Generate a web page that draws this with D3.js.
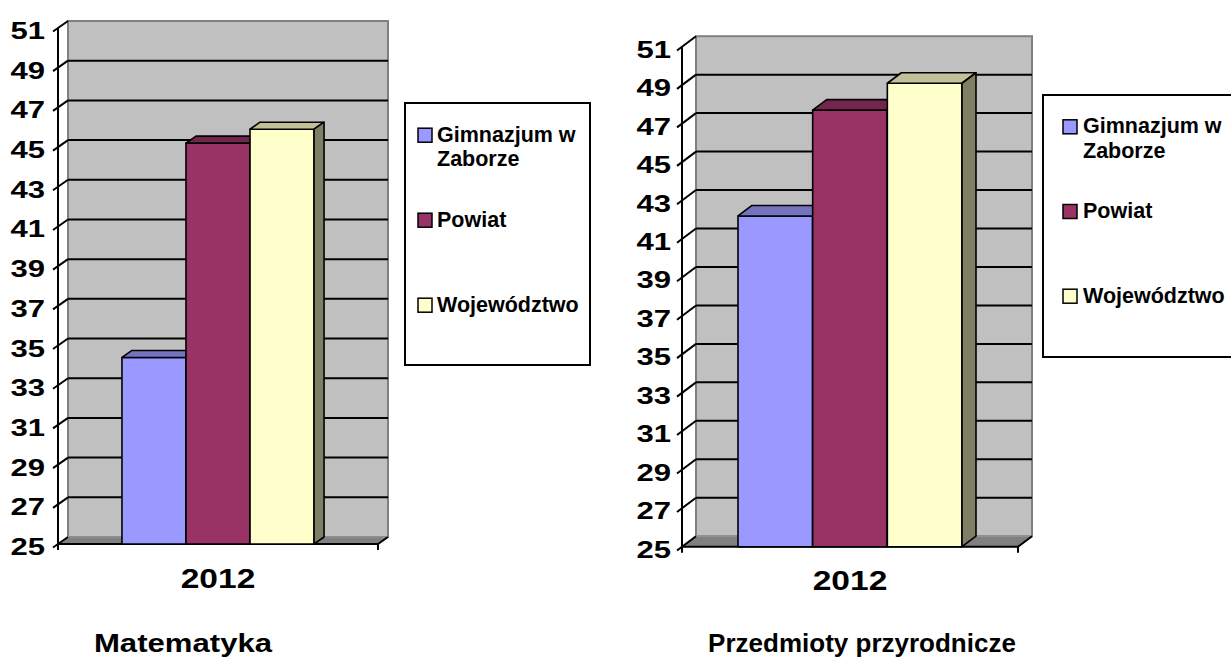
<!DOCTYPE html>
<html>
<head>
<meta charset="utf-8">
<script src="https://cdn.jsdelivr.net/npm/d3@7"></script>
<style>
    body { margin: 0; background: #fff; }
    svg { display: block; }
    text { font-family: "Liberation Sans", Arial, sans-serif; font-weight: bold; fill: #000; }
</style>
</head>
<body>
<svg id="chart" width="1231" height="657"></svg>
<script>
// data
const seriesNames = ["Gimnazjum w Zaborze", "Powiat", "Województwo"];
const legendLabels = [["Gimnazjum w", "Zaborze"], ["Powiat"], ["Województwo"]];
const years = ["2012"];
const mathScores = [34.4, 45.2, 45.9];
const scienceScores = [42.2, 47.7, 49.1];
const yTicks = [25, 27, 29, 31, 33, 35, 37, 39, 41, 43, 45, 47, 49, 51];
const titles = ["Matematyka", "Przedmioty przyrodnicze"];

const palette = ["#9999ff", "#993366", "#ffffcc"];

const charts = [
    {
        values: mathScores, title: titles[0],
        x0: 58, x1: 378, yTop: 28, yBottom: 544, dx: 10, dy: -7, pad: 0.333,
        labelX: 45, yearY: 588, titleX: 183, titleY: 652, titleStretch: 1.22,
        legend: { x: 405, y: 103, w: 185, h: 262, swatchX: 418, textX: 437, rows: [141.7, 226.7, 311.7] }
    },
    {
        values: scienceScores, title: titles[1],
        x0: 682, x1: 1018, yTop: 46.7, yBottom: 546.7, dx: 14, dy: -10.5, pad: 0.25,
        labelX: 671, yearY: 590, titleX: 862, titleY: 652, titleStretch: 1.02,
        legend: { x: 1043, y: 95, w: 200, h: 262, swatchX: 1063, textX: 1083, rows: [133.3, 218, 302.7] }
    }
];

const svg = d3.select("#chart");

function drawChart(c) {
    const g = svg.append("g");
    const { dx, dy } = c;

    const y = d3.scaleLinear().domain([25, 51]).range([c.yBottom, c.yTop]);
    const x = d3.scaleBand().domain(years).range([c.x0, c.x1]).paddingOuter(c.pad).paddingInner(0);
    const xs = d3.scaleBand().domain(seriesNames).range([0, x.bandwidth()]);

    // back wall
    g.append("rect")
        .attr("x", c.x0 + dx).attr("y", c.yTop + dy)
        .attr("width", c.x1 - c.x0).attr("height", c.yBottom - c.yTop)
        .attr("fill", "#c0c0c0").attr("stroke", "#808080").attr("stroke-width", 2);

    // floor
    g.append("path")
        .attr("d", `M${c.x0},${c.yBottom}L${c.x1},${c.yBottom}L${c.x1 + dx},${c.yBottom + dy}L${c.x0 + dx},${c.yBottom + dy}Z`)
        .attr("fill", "#808080").attr("stroke", "#999").attr("stroke-width", 1);

    // gridlines on the wall
    g.selectAll(".grid")
        .data(yTicks.filter(t => t > 25 && t < 51))
        .join("line")
        .attr("class", "grid")
        .attr("x1", c.x0 + dx).attr("x2", c.x1 + dx)
        .attr("y1", t => y(t) + dy).attr("y2", t => y(t) + dy)
        .attr("stroke", "#000").attr("stroke-width", 2);

    // axes
    g.append("line")
        .attr("x1", c.x0).attr("x2", c.x0)
        .attr("y1", y(51)).attr("y2", c.yBottom + 6)
        .attr("stroke", "#000").attr("stroke-width", 2);

    g.selectAll(".tick")
        .data(yTicks)
        .join("line")
        .attr("class", "tick")
        .attr("x1", c.x0 - 5).attr("y1", t => y(t) - 5 * dy / dx)
        .attr("x2", c.x0 + dx).attr("y2", t => y(t) + dy)
        .attr("stroke", "#000").attr("stroke-width", 2);

    g.append("line")
        .attr("x1", c.x0).attr("x2", c.x1)
        .attr("y1", c.yBottom).attr("y2", c.yBottom)
        .attr("stroke", "#000").attr("stroke-width", 2);

    g.append("path")
        .attr("d", `M${c.x1},${c.yBottom + 6}L${c.x1},${c.yBottom}L${c.x1 + dx},${c.yBottom + dy}`)
        .attr("fill", "none").attr("stroke", "#000").attr("stroke-width", 2);

    // 3d bars, left to right so each front hides the previous side
    const bars = g.selectAll(".bar")
        .data(seriesNames.map((name, i) => ({ name, value: c.values[i], color: palette[i] })))
        .join("g")
        .attr("class", "bar");

    bars.each(function (d) {
        const b = d3.select(this);
        const left = x(years[0]) + xs(d.name);
        const w = xs.bandwidth();
        const top = y(d.value);

        b.append("rect")
            .attr("x", left).attr("y", top)
            .attr("width", w).attr("height", c.yBottom - top)
            .attr("fill", d.color);

        b.append("path")
            .attr("d", `M${left},${top}L${left + dx},${top + dy}L${left + w + dx},${top + dy}L${left + w},${top}Z`)
            .attr("fill", d3.color(d.color).darker(0.8));

        b.append("path")
            .attr("d", `M${left + w},${top}L${left + w + dx},${top + dy}L${left + w + dx},${c.yBottom + dy}L${left + w},${c.yBottom}Z`)
            .attr("fill", d3.color(d.color).darker(1.95));

        b.selectAll("rect, path")
            .attr("stroke", "#000").attr("stroke-width", 1.6).attr("stroke-linejoin", "round");
    });

    // labels
    g.selectAll(".ylab")
        .data(yTicks)
        .join("text")
        .attr("class", "ylab")
        .attr("transform", t => `translate(${c.labelX},${y(t) + 11}) scale(1.35,1)`)
        .attr("text-anchor", "end")
        .attr("font-size", 23)
        .text(t => t);

    g.selectAll(".year")
        .data(years)
        .join("text")
        .attr("class", "year")
        .attr("transform", d => `translate(${x(d) + x.bandwidth() / 2},${c.yearY}) scale(1.22,1)`)
        .attr("text-anchor", "middle")
        .attr("font-size", 27.5)
        .text(d => d);

    g.append("text")
        .attr("transform", `translate(${c.titleX},${c.titleY}) scale(${c.titleStretch},1)`)
        .attr("text-anchor", "middle")
        .attr("font-size", 25.5)
        .text(c.title);

    // legend
    const L = c.legend;
    const leg = g.append("g");
    leg.append("rect")
        .attr("x", L.x).attr("y", L.y).attr("width", L.w).attr("height", L.h)
        .attr("fill", "#fff").attr("stroke", "#000").attr("stroke-width", 2);

    const rows = leg.selectAll(".row")
        .data(seriesNames)
        .join("g")
        .attr("class", "row");

    rows.append("rect")
        .attr("x", L.swatchX).attr("y", (d, i) => L.rows[i] - 13.5)
        .attr("width", 14).attr("height", 14)
        .attr("fill", (d, i) => palette[i])
        .attr("stroke", "#000").attr("stroke-width", 1.5);

    rows.append("text")
        .attr("font-size", 21.5)
        .attr("y", (d, i) => L.rows[i])
        .selectAll("tspan")
        .data((d, i) => legendLabels[i])
        .join("tspan")
        .attr("x", L.textX)
        .attr("dy", (d, j) => j === 0 ? 0 : 24.5)
        .text(d => d);
}

charts.forEach(drawChart);
</script>
</body>
</html>
